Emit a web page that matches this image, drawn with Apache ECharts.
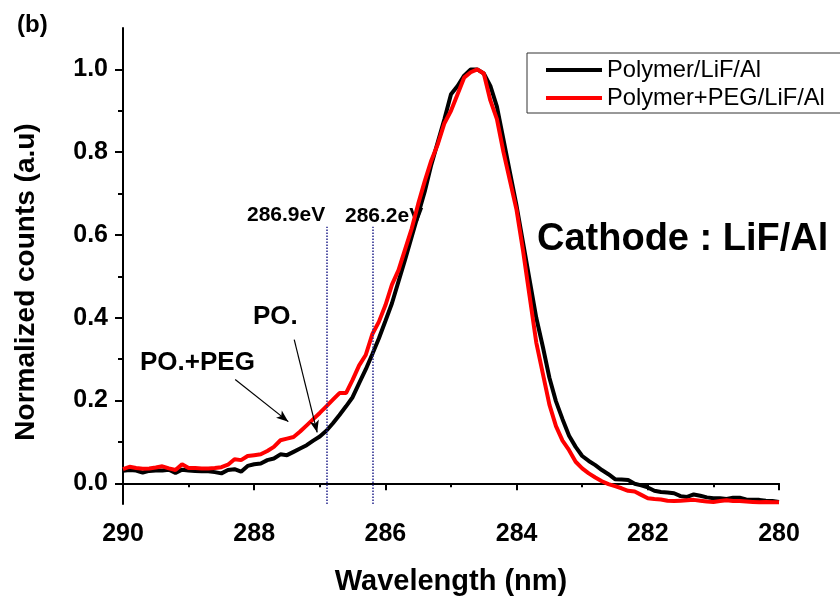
<!DOCTYPE html>
<html>
<head>
<meta charset="utf-8">
<style>
html,body{margin:0;padding:0;background:#fff;}
#chart{width:840px;height:599px;}
</style>
<script src="https://cdn.jsdelivr.net/npm/echarts@6/dist/echarts.min.js"></script>
</head>
<body>
<div id="chart"></div>
<script>
// ---- data ----
const energy = [
290.0,289.9,289.8,289.7,289.6,289.5,289.4,289.3,289.2,289.1,
289.0,288.9,288.8,288.7,288.6,288.5,288.4,288.3,288.2,288.1,
288.0,287.9,287.8,287.7,287.6,287.5,287.4,287.3,287.2,287.1,
287.0,286.9,286.8,286.7,286.6,286.5,286.4,286.3,286.2,286.1,
286.0,285.9,285.8,285.7,285.6,285.5,285.4,285.3,285.2,285.1,
285.0,284.9,284.8,284.7,284.6,284.5,284.4,284.3,284.2,284.1,
284.0,283.9,283.8,283.7,283.6,283.5,283.4,283.3,283.2,283.1,
283.0,282.9,282.8,282.7,282.6,282.5,282.4,282.3,282.2,282.1,
282.0,281.9,281.8,281.7,281.6,281.5,281.4,281.3,281.2,281.1,
281.0,280.9,280.8,280.7,280.6,280.5,280.4,280.3,280.2,280.1,
280.0
];
const polymerLiFAl = [
0.030,0.032,0.031,0.026,0.030,0.031,0.031,0.033,0.025,0.033,
0.031,0.030,0.029,0.029,0.027,0.024,0.032,0.034,0.028,0.042,
0.046,0.048,0.056,0.060,0.070,0.068,0.076,0.084,0.092,0.103,
0.113,0.127,0.145,0.165,0.186,0.208,0.242,0.275,0.312,0.350,
0.392,0.435,0.488,0.540,0.595,0.650,0.705,0.770,0.825,0.880,
0.940,0.960,0.985,1.000,1.000,0.990,0.960,0.910,0.830,0.750,
0.670,0.580,0.490,0.400,0.330,0.255,0.198,0.155,0.115,0.088,
0.066,0.054,0.044,0.032,0.022,0.010,0.009,0.008,-0.001,-0.005,
-0.010,-0.018,-0.021,-0.022,-0.024,-0.031,-0.033,-0.027,-0.030,-0.034,
-0.036,-0.036,-0.038,-0.035,-0.035,-0.039,-0.040,-0.040,-0.042,-0.043,
-0.045
];
const polymerPEGLiFAl = [
0.034,0.040,0.037,0.035,0.036,0.038,0.041,0.036,0.032,0.046,
0.037,0.037,0.036,0.036,0.037,0.039,0.045,0.058,0.056,0.066,
0.068,0.070,0.078,0.088,0.104,0.108,0.112,0.125,0.140,0.155,
0.170,0.186,0.202,0.218,0.218,0.250,0.285,0.310,0.360,0.390,
0.430,0.480,0.515,0.565,0.615,0.675,0.730,0.780,0.820,0.870,
0.900,0.940,0.980,0.993,1.000,0.990,0.925,0.880,0.800,0.730,
0.660,0.560,0.450,0.340,0.265,0.190,0.138,0.103,0.080,0.052,
0.036,0.024,0.014,0.005,-0.002,-0.007,-0.012,-0.018,-0.020,-0.028,
-0.036,-0.038,-0.039,-0.042,-0.043,-0.042,-0.041,-0.040,-0.042,-0.044,
-0.045,-0.043,-0.041,-0.043,-0.043,-0.044,-0.045,-0.046,-0.045,-0.046,
-0.046
];
const seriesNames = ['Polymer/LiF/Al', 'Polymer+PEG/LiF/Al'];
const xMajorTicks = [290, 288, 286, 284, 282, 280];
const xMinorTicks = [289, 287, 285, 283, 281];
const yMajorTicks = [0.0, 0.2, 0.4, 0.6, 0.8, 1.0];
const yMinorTicks = [0.1, 0.3, 0.5, 0.7, 0.9];
const markerEnergies = [286.9, 286.2];
const markerTop = 0.62;
const arrowPEG = [[288.29, 0.251], [287.48, 0.149]];
const arrowPO = [[287.39, 0.347], [287.04, 0.123]];

// ---- chart ----
const FONT = '"Liberation Sans", Arial, sans-serif';
const chart = echarts.init(document.getElementById('chart'), null, {renderer: 'canvas'});

function pairs(xs, ys) { return xs.map((x, i) => [x, ys[i]]); }

const axisCommon = {
  type: 'value', min: 280, max: 290, inverse: true,
  splitLine: {show: false}
};

const option = {
  animation: false,
  backgroundColor: '#ffffff',
  grid: {left: 123, right: 61, top: 28, bottom: 95, containLabel: false, outerBoundsMode: 'none'},
  legend: {
    data: seriesNames,
    orient: 'vertical',
    left: 527, top: 53,
    padding: [5, 30, 3, 19],
    borderColor: '#333', borderWidth: 1,
    itemWidth: 56, itemHeight: 4, itemGap: 4,
    icon: 'rect',
    textStyle: {fontFamily: FONT, fontSize: 23.7, lineHeight: 24, color: '#000'}
  },
  xAxis: [
    Object.assign({}, axisCommon, {
      position: 'bottom',
      interval: 2,
      axisLine: {show: true, lineStyle: {color: '#000', width: 2}},
      axisTick: {show: true, inside: false, length: 7, lineStyle: {color: '#000', width: 2}, customValues: xMajorTicks},
      axisLabel: {show: true, customValues: xMajorTicks, margin: 18, color: '#000', fontFamily: FONT, fontWeight: 'bold', fontSize: 25}
    }),
    Object.assign({}, axisCommon, {
      position: 'bottom',
      axisLine: {show: false},
      axisTick: {show: true, inside: false, length: 4, lineStyle: {color: '#000', width: 2}, customValues: xMinorTicks},
      axisLabel: {show: false}
    })
  ],
  yAxis: [
    {
      type: 'value', min: -0.05, max: 1.1, position: 'left',
      splitLine: {show: false},
      axisLine: {show: true, lineStyle: {color: '#000', width: 2}},
      axisTick: {show: true, inside: false, length: 8, lineStyle: {color: '#000', width: 2}, customValues: yMajorTicks},
      axisLabel: {show: true, customValues: yMajorTicks, margin: 15, color: '#000', fontFamily: FONT, fontWeight: 'bold', fontSize: 25,
        formatter: v => Number(v).toFixed(1)}
    },
    {
      type: 'value', min: -0.05, max: 1.1, position: 'left',
      splitLine: {show: false},
      axisLine: {show: false},
      axisTick: {show: true, inside: false, length: 5, lineStyle: {color: '#000', width: 2}, customValues: yMinorTicks},
      axisLabel: {show: false}
    }
  ],
  series: [
    {
      name: seriesNames[0], type: 'line', xAxisIndex: 0, yAxisIndex: 0,
      data: pairs(energy, polymerLiFAl),
      showSymbol: false, symbol: 'none',
      lineStyle: {color: '#000000', width: 4},
      itemStyle: {color: '#000000'},
      markLine: {
        silent: true, symbol: ['none', 'none'], label: {show: false},
        lineStyle: {color: '#23238c', type: 'dotted', width: 1.5},
        data: markerEnergies.map(e => [{coord: [e, -0.05]}, {coord: [e, markerTop]}])
      }
    },
    {
      name: seriesNames[1], type: 'line', xAxisIndex: 0, yAxisIndex: 0,
      data: pairs(energy, polymerPEGLiFAl),
      showSymbol: false, symbol: 'none',
      lineStyle: {color: '#ff0000', width: 4},
      itemStyle: {color: '#ff0000'},
      markLine: {
        silent: true, symbol: ['none', 'arrow'], symbolSize: [7, 12], label: {show: false},
        lineStyle: {color: '#000', type: 'solid', width: 1.2},
        itemStyle: {color: '#000'},
        data: [
          [{coord: arrowPEG[0]}, {coord: arrowPEG[1]}],
          [{coord: arrowPO[0]}, {coord: arrowPO[1]}]
        ]
      }
    }
  ],
  graphic: [
    {type: 'text', x: 17, y: 25, style: {text: '(b)', font: 'bold 24px ' + FONT, fill: '#000', verticalAlign: 'middle'}},
    {type: 'text', x: 537, y: 240, style: {text: 'Cathode : LiF/Al', font: 'bold 38px ' + FONT, fill: '#000', verticalAlign: 'middle'}},
    {type: 'text', x: 247, y: 215, style: {text: '286.9eV', font: 'bold 21px ' + FONT, fill: '#000', verticalAlign: 'middle'}},
    {type: 'text', x: 345, y: 216, style: {text: '286.2eV', font: 'bold 21px ' + FONT, fill: '#000', verticalAlign: 'middle'}},
    {type: 'text', x: 253, y: 317, style: {text: 'PO.', font: 'bold 26px ' + FONT, fill: '#000', verticalAlign: 'middle'}},
    {type: 'text', x: 140, y: 363, style: {text: 'PO.+PEG', font: 'bold 26px ' + FONT, fill: '#000', verticalAlign: 'middle'}},
    {type: 'text', x: 451, y: 582, style: {text: 'Wavelength (nm)', font: 'bold 29px ' + FONT, fill: '#000', align: 'center', verticalAlign: 'middle'}},
    {type: 'text', x: 26, y: 282, rotation: Math.PI / 2, style: {text: 'Normalized counts (a.u)', font: 'bold 28px ' + FONT, fill: '#000', align: 'center', verticalAlign: 'middle'}}
  ]
};
chart.setOption(option);
</script>
</body>
</html>
